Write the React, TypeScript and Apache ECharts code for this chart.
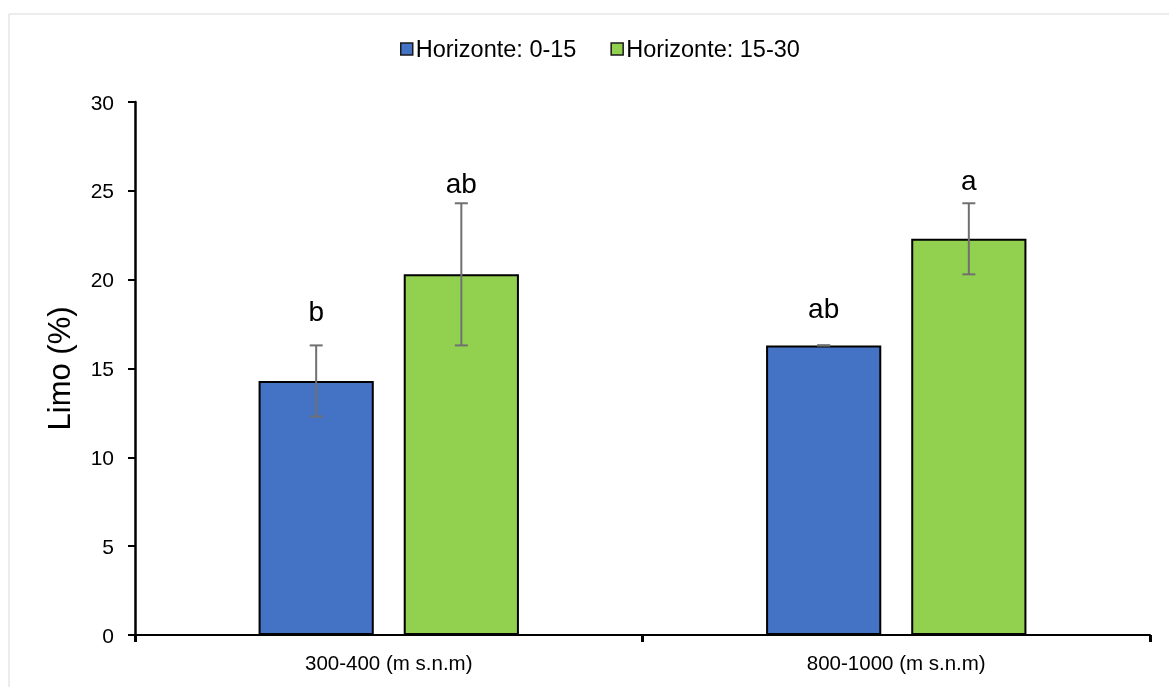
import React, { useEffect, useRef } from "react";
import * as echarts from "echarts";

const categories = ["300-400 (m s.n.m)", "800-1000 (m s.n.m)"];
const seriesNames = ["Horizonte: 0-15", "Horizonte: 15-30"];
const meansH1 = [14.3, 16.3];
const meansH2 = [20.3, 22.3];
const errH1 = [2.0, 0.0];
const errH2 = [4.0, 2.0];
const lettersH1 = ["b", "ab"];
const lettersH2 = ["ab", "a"];
const letterValH1 = [18.2, 18.4];
const letterValH2 = [25.4, 25.6];
const yTicks = [0, 5, 10, 15, 20, 25, 30];

const colors = ["#4472C4", "#92D050"];
const BAR_W = 0.227;
const GAP = 0.26;

export default function App() {
  const ref = useRef<HTMLDivElement>(null);
  useEffect(() => {
    const chart = echarts.init(ref.current!, null, { renderer: "svg" });
    const font = "'Liberation Sans', Arial, sans-serif";

    const makeErr = (sIdx: number, means: number[], errs: number[], letters: string[], letterVals: number[]) => ({
      type: "custom",
      z: 10,
      silent: true,
      data: means.map((m, i) => [i, m, errs[i], letterVals[i]]),
      renderItem: (params: any, api: any) => {
        const i = api.value(0);
        const m = api.value(1);
        const e = api.value(2);
        const lv = api.value(3);
        const band = api.size([1, 0])[0];
        const bw = band * BAR_W;
        const off = ((bw + bw * GAP) / 2) * (sIdx === 0 ? -1 : 1);
        const c = api.coord([i, m]);
        const x = c[0] + off;
        const top = api.coord([i, m + e])[1];
        const bot = api.coord([i, m - e])[1];
        const ly = api.coord([i, lv])[1];
        const stroke = { stroke: "#707070", lineWidth: 2 };
        const children: any[] = [];
        if (e > 0) {
          children.push({ type: "line", shape: { x1: x, y1: top, x2: x, y2: bot }, style: stroke });
        }
        children.push({ type: "line", shape: { x1: x - 6.5, y1: top, x2: x + 6.5, y2: top }, style: stroke });
        children.push({ type: "line", shape: { x1: x - 6.5, y1: bot, x2: x + 6.5, y2: bot }, style: stroke });
        children.push({
          type: "text",
          style: {
            text: letters[i],
            x,
            y: ly,
            align: "center",
            verticalAlign: "middle",
            fontSize: 28,
            fontFamily: font,
            fill: "#000",
          },
        });
        return { type: "group", children };
      },
    });

    chart.setOption({
      animation: false,
      graphic: [
        {
          type: "rect",
          shape: { x: 9, y: 14, width: 1200, height: 720 },
          style: { fill: "none", stroke: "#d9d9d9", lineWidth: 1 },
          silent: true,
          z: -1,
        },
      ],
      legend: {
        top: 32,
        left: 395,
        itemWidth: 12,
        itemHeight: 12,
        itemGap: 34,
        textStyle: { fontSize: 23.5, fontFamily: font, color: "#000", padding: [0, 0, 0, -2] },
        data: seriesNames.map((n, i) => ({
          name: n,
          icon: "rect",
          itemStyle: { color: colors[i], borderColor: "#1a1a1a", borderWidth: 1.5 },
        })),
      },
      grid: { left: 135, right: 19, top: 102, bottom: 52 },
      xAxis: {
        type: "category",
        data: categories,
        axisLine: { lineStyle: { color: "#000", width: 2 } },
        axisTick: { show: true, alignWithLabel: false, interval: 0, length: 7, lineStyle: { color: "#000", width: 3 } },
        axisLabel: { fontSize: 20.5, fontFamily: font, color: "#000", margin: 17 },
      },
      yAxis: {
        type: "value",
        min: 0,
        max: 30,
        interval: 5,
        name: "Limo (%)",
        nameLocation: "middle",
        nameGap: 60,
        nameTextStyle: { fontSize: 31, fontFamily: font, color: "#000" },
        axisLine: { show: true, lineStyle: { color: "#000", width: 2.5 } },
        axisTick: { show: true, length: 7, lineStyle: { color: "#000", width: 2 } },
        axisLabel: {
          fontSize: 21,
          fontFamily: font,
          color: "#000",
          margin: 21,
          formatter: (v: number) => (yTicks.includes(v) ? String(v) : ""),
        },
        splitLine: { show: false },
      },
      series: [
        {
          name: seriesNames[0],
          type: "bar",
          data: meansH1,
          barWidth: (BAR_W * 100).toFixed(1) + "%",
          barGap: (GAP * 100).toFixed(0) + "%",
          itemStyle: { color: colors[0], borderColor: "#000", borderWidth: 2 },
        },
        {
          name: seriesNames[1],
          type: "bar",
          data: meansH2,
          barWidth: (BAR_W * 100).toFixed(1) + "%",
          barGap: (GAP * 100).toFixed(0) + "%",
          itemStyle: { color: colors[1], borderColor: "#000", borderWidth: 2 },
        },
        makeErr(0, meansH1, errH1, lettersH1, letterValH1),
        makeErr(1, meansH2, errH2, lettersH2, letterValH2),
      ],
    });
    return () => chart.dispose();
  }, []);
  return <div ref={ref} style={{ width: 1169, height: 687, position: "fixed", left: 0, top: 0 }} />;
}
